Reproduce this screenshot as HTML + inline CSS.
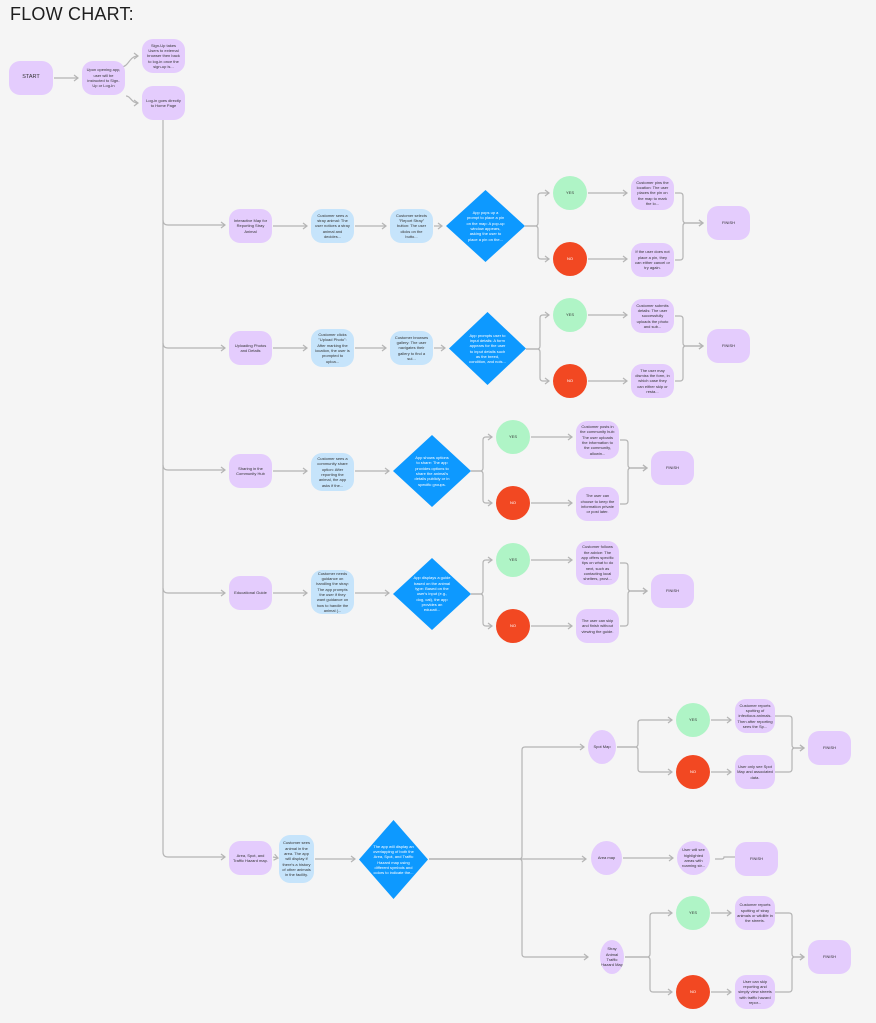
<!DOCTYPE html>
<html><head><meta charset="utf-8"><style>
body{margin:0;width:876px;height:1023px;background:#f5f5f5;position:relative;overflow:hidden;font-family:"Liberation Sans",sans-serif}
h1{position:absolute;left:10px;top:4px;margin:0;font-weight:400;font-size:18px;color:#1e1e1e;letter-spacing:0.2px}
.n{position:absolute;display:flex;align-items:center;justify-content:center;text-align:center;font-size:4px;line-height:5.3px;color:#333;border-radius:11px;box-sizing:border-box;padding:2px 4px;overflow:hidden}
.p{background:#e4ccfd}.b{background:#c6e4fb}.y{background:#aff4c6;border-radius:50%}.r{background:#f24822;border-radius:50%;color:#fff}
.d{position:absolute;background:#0d99ff;clip-path:polygon(50% 0,100% 50%,50% 100%,0 50%);display:flex;align-items:center;justify-content:center;text-align:center;color:#fff;font-size:4px;line-height:5.3px;box-sizing:border-box;padding:0 20px}
svg{position:absolute;left:0;top:0}
</style></head><body>
<h1>FLOW CHART:</h1>
<svg width="876" height="1023" fill="none" stroke="#b5b5b5" stroke-width="1.2">
<defs><marker id="a" markerWidth="8" markerHeight="8" refX="6" refY="4" orient="auto" markerUnits="userSpaceOnUse"><path d="M2,1 L6,4 L2,7" stroke="#b5b5b5" fill="none" stroke-width="1.2"/></marker></defs>
<g marker-end="url(#a)">
<path d="M54,78H78"/>
<path d="M121,67C129,67 129,56 138,56"/>
<path d="M126,96C131,96 131,103 138,103"/>
<path d="M163,120V852Q163,857 168,857H225"/>
<path d="M163,220Q163,225 168,225H225"/>
<path d="M163,343Q163,348 168,348H225"/>
<path d="M163,465Q163,470 168,470H225"/>
<path d="M163,588Q163,593 168,593H225"/>
<path d="M273,226H307"/><path d="M355,226H386"/><path d="M434,226H442"/>
<path d="M273,348H307"/><path d="M355,348H386"/><path d="M434,348H445"/>
<path d="M273,471H307"/><path d="M355,471H389"/>
<path d="M273,593H307"/><path d="M355,593H389"/>
<path d="M273,857L278,858"/><path d="M315,859H355"/>
<!-- forks -->
<path d="M525,226H535Q538,226 538,223V196Q538,193 541,193H549"/>
<path d="M525,226H535Q538,226 538,229V256Q538,259 541,259H549"/>
<path d="M526,349H537Q540,349 540,346V318Q540,315 543,315H549"/>
<path d="M526,349H537Q540,349 540,352V378Q540,381 543,381H549"/>
<path d="M471,471H480Q483,471 483,468V440Q483,437 486,437H492"/>
<path d="M471,471H480Q483,471 483,474V500Q483,503 486,503H492"/>
<path d="M471,594H480Q483,594 483,591V563Q483,560 486,560H492"/>
<path d="M471,594H480Q483,594 483,597V623Q483,626 486,626H492"/>
<path d="M588,193H627"/><path d="M588,259H627"/><path d="M588,315H627"/><path d="M588,381H627"/>
<path d="M531,437H572"/><path d="M531,503H572"/><path d="M531,560H572"/><path d="M531,626H572"/>
<path d="M675,193H680Q683,193 683,196V220Q683,223 686,223H703"/>
<path d="M675,260H680Q683,260 683,257V226Q683,223 686,223H703"/>
<path d="M675,316H680Q683,316 683,319V343Q683,346 686,346H703"/>
<path d="M675,381H680Q683,381 683,378V349Q683,346 686,346H703"/>
<path d="M620,440H625Q628,440 628,443V465Q628,468 631,468H647"/>
<path d="M620,504H625Q628,504 628,501V471Q628,468 631,468H647"/>
<path d="M620,563H625Q628,563 628,566V588Q628,591 631,591H647"/>
<path d="M620,626H625Q628,626 628,623V594Q628,591 631,591H647"/>
<!-- row 5 -->
<path d="M429,859H519Q522,859 522,856V750Q522,747 525,747H584"/>
<path d="M429,859H586"/>
<path d="M429,859H519Q522,859 522,862V954Q522,957 525,957H588"/>
<path d="M617,747H635Q638,747 638,744V723Q638,720 641,720H672"/>
<path d="M617,747H635Q638,747 638,750V769Q638,772 641,772H672"/>
<path d="M711,720H731"/><path d="M711,772H731"/>
<path d="M775,716H789Q792,716 792,719V745Q792,748 795,748H804"/>
<path d="M775,772H789Q792,772 792,769V751Q792,748 795,748H804"/>
<path d="M623,858H673"/>
<path d="M625,957H647Q650,957 650,954V916Q650,913 653,913H672"/>
<path d="M625,957H647Q650,957 650,960V989Q650,992 653,992H672"/>
<path d="M711,913H731"/><path d="M711,992H731"/>
<path d="M775,913H789Q792,913 792,916V954Q792,957 795,957H804"/>
<path d="M775,992H789Q792,992 792,989V960Q792,957 795,957H804"/>
</g>
<path d="M715,859H722Q724,859 724,857H735"/>
</svg>

<div class="n p" style="left:9px;top:61px;width:44px;height:34px;font-size:5.5px">START</div>
<div class="n p" style="left:82px;top:61px;width:43px;height:34px">Upon opening app, user will be instructed to Sign-Up or Log-In</div>
<div class="n p" style="left:142px;top:39px;width:43px;height:34px">Sign-Up takes Users to external browser then back to log-in once the sign-up is...</div>
<div class="n p" style="left:142px;top:86px;width:43px;height:34px">Log-in goes directly to Home Page</div>

<div class="n p" style="left:229px;top:209px;width:43px;height:34px">Interactive Map for Reporting Stray Animal</div>
<div class="n b" style="left:311px;top:209px;width:43px;height:34px">Customer sees a stray animal: The user notices a stray animal and decides...</div>
<div class="n b" style="left:390px;top:209px;width:43px;height:34px">Customer selects "Report Stray" button: The user clicks on the butto...</div>
<div class="d" style="left:446px;top:190px;width:79px;height:72px">App pops up a prompt to place a pin on the map: A pop-up window appears, asking the user to place a pin on the...</div>
<div class="n y" style="left:553px;top:176px;width:34px;height:34px">YES</div>
<div class="n r" style="left:553px;top:242px;width:34px;height:34px">NO</div>
<div class="n p" style="left:631px;top:176px;width:43px;height:34px">Customer pins the location: The user places the pin on the map to mark the lo...</div>
<div class="n p" style="left:631px;top:243px;width:43px;height:34px">If the user does not place a pin, they can either cancel or try again.</div>
<div class="n p" style="left:707px;top:206px;width:43px;height:34px">FINISH</div>

<div class="n p" style="left:229px;top:331px;width:43px;height:34px">Uploading Photos and Details</div>
<div class="n b" style="left:311px;top:329px;width:43px;height:38px">Customer clicks "Upload Photo": After marking the location, the user is prompted to uploa...</div>
<div class="n b" style="left:390px;top:331px;width:43px;height:34px">Customer browses gallery: The user navigates their gallery to find a sui...</div>
<div class="d" style="left:449px;top:312px;width:77px;height:73px">App prompts user to input details: A form appears for the user to input details such as the breed, condition, and nois...</div>
<div class="n y" style="left:553px;top:298px;width:34px;height:34px">YES</div>
<div class="n r" style="left:553px;top:364px;width:34px;height:34px">NO</div>
<div class="n p" style="left:631px;top:299px;width:43px;height:34px">Customer submits details: The user successfully uploads the photo and sub...</div>
<div class="n p" style="left:631px;top:364px;width:43px;height:34px">The user may dismiss the form, in which case they can either skip or resta...</div>
<div class="n p" style="left:707px;top:329px;width:43px;height:34px">FINISH</div>

<div class="n p" style="left:229px;top:454px;width:43px;height:34px">Sharing in the Community Hub</div>
<div class="n b" style="left:311px;top:453px;width:43px;height:38px">Customer sees a community share option: After reporting the animal, the app asks if the...</div>
<div class="d" style="left:393px;top:435px;width:78px;height:72px">App shows options to share: The app provides options to share the animal's details publicly or in specific groups.</div>
<div class="n y" style="left:496px;top:420px;width:34px;height:34px">YES</div>
<div class="n r" style="left:496px;top:486px;width:34px;height:34px">NO</div>
<div class="n p" style="left:576px;top:421px;width:43px;height:38px">Customer posts in the community hub: The user uploads the information to the community, allowin...</div>
<div class="n p" style="left:576px;top:487px;width:43px;height:34px">The user can choose to keep the information private or post later.</div>
<div class="n p" style="left:651px;top:451px;width:43px;height:34px">FINISH</div>

<div class="n p" style="left:229px;top:576px;width:43px;height:34px">Educational Guide</div>
<div class="n b" style="left:311px;top:570px;width:43px;height:44px">Customer needs guidance on handling the stray: The app prompts the user if they want guidance on how to handle the animal (...</div>
<div class="d" style="left:393px;top:558px;width:78px;height:72px">App displays a guide based on the animal type: Based on the user's input (e.g., dog, cat), the app provides an educati...</div>
<div class="n y" style="left:496px;top:543px;width:34px;height:34px">YES</div>
<div class="n r" style="left:496px;top:609px;width:34px;height:34px">NO</div>
<div class="n p" style="left:576px;top:541px;width:43px;height:44px">Customer follows the advice: The app offers specific tips on what to do next, such as contacting local shelters, provi...</div>
<div class="n p" style="left:576px;top:609px;width:43px;height:34px">The user can skip and finish without viewing the guide.</div>
<div class="n p" style="left:651px;top:574px;width:43px;height:34px">FINISH</div>

<div class="n p" style="left:229px;top:841px;width:43px;height:34px">Area, Spot, and Traffic Hazard map.</div>
<div class="n b" style="left:279px;top:835px;width:35px;height:48px;padding:2px">Customer sees animal in the area. The app will display if there's a history of other animals in the facility.</div>
<div class="d" style="left:359px;top:820px;width:69px;height:79px;padding:0 14px">The app will display an overlapping of both the Area, Spot, and Traffic Hazard map using different symbols and colors to indicate the...</div>
<div class="n p" style="left:588px;top:730px;width:28px;height:34px;border-radius:50%">Spot Map</div>
<div class="n p" style="left:591px;top:841px;width:31px;height:34px;border-radius:50%">Area map</div>
<div class="n p" style="left:600px;top:940px;width:24px;height:34px;border-radius:50%;padding:1px">Stray Animal Traffic Hazard Map</div>
<div class="n y" style="left:676px;top:703px;width:34px;height:34px">YES</div>
<div class="n r" style="left:676px;top:755px;width:34px;height:34px">NO</div>
<div class="n p" style="left:735px;top:699px;width:40px;height:34px;padding:2px">Customer reports spotting of infectious animals. Then after reporting sees the Sp...</div>
<div class="n p" style="left:735px;top:755px;width:40px;height:34px;padding:2px">User only see Spot Map and associated data.</div>
<div class="n p" style="left:808px;top:731px;width:43px;height:34px">FINISH</div>
<div class="n p" style="left:677px;top:841px;width:33px;height:34px;border-radius:50%;padding:2px">User will see highlighted areas with roaming str...</div>
<div class="n p" style="left:735px;top:842px;width:43px;height:34px">FINISH</div>
<div class="n y" style="left:676px;top:896px;width:34px;height:34px">YES</div>
<div class="n r" style="left:676px;top:975px;width:34px;height:34px">NO</div>
<div class="n p" style="left:735px;top:896px;width:40px;height:34px;padding:2px">Customer reports spotting of stray animals or wildlife in the streets.</div>
<div class="n p" style="left:735px;top:975px;width:40px;height:34px;padding:2px">User can skip reporting and simply view streets with traffic hazard repor...</div>
<div class="n p" style="left:808px;top:940px;width:43px;height:34px">FINISH</div>
</body></html>
